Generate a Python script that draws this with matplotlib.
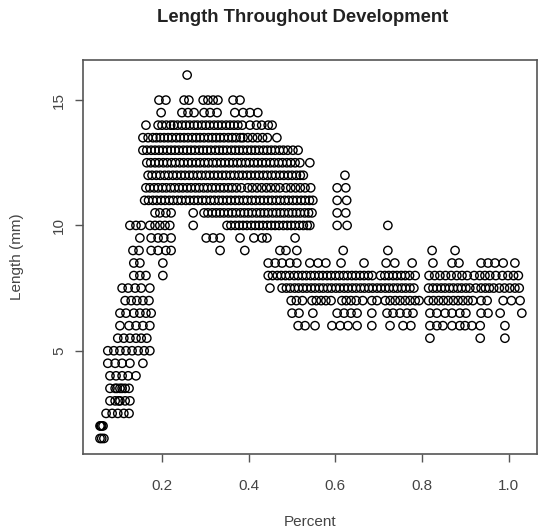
import numpy as np
import matplotlib
matplotlib.use("Agg")
import matplotlib.pyplot as plt

plt.rcParams['font.family'] = ['Liberation Sans', 'DejaVu Sans']

# Percent (x100) of points (mm)
pct_16_0 = [25.8]
pct_15_0 = [19.3, 20.9, 25.1, 26.2, 29.5, 30.6, 31.8, 32.9, 36.4, 38.0]
pct_14_5 = [19.8, 24.6, 26.0, 27.4, 29.7, 31.1, 32.7, 36.8, 38.7, 40.3, 42.1]
pct_14_0 = [16.3, 19.1, 20.0, 21.0, 22.0, 22.7, 23.6, 24.6, 25.5, 26.4, 27.4, 28.2,
            29.2, 30.1, 31.0, 32.0, 32.9, 33.8, 34.8, 35.7, 36.6, 37.5, 38.5, 40.3,
            41.8, 43.0, 44.5, 45.4]
pct_13_5 = [15.6, 16.8, 17.9, 18.7, 19.6, 20.5, 21.4, 22.3, 23.3, 24.2, 25.1, 26.0,
            27.0, 27.9, 28.8, 29.7, 30.7, 31.6, 32.5, 33.4, 34.3, 35.3, 36.2, 37.1,
            38.1, 38.7, 39.8, 40.9, 42.0, 43.2, 44.3, 46.5]
pct_13_0 = [15.6, 16.5, 17.5, 18.4, 19.3, 20.2, 21.2, 22.1, 23.0, 23.9, 24.9, 25.8,
            26.7, 27.6, 28.6, 29.5, 30.4, 31.3, 32.3, 33.2, 34.1, 35.0, 36.0, 36.9,
            37.8, 38.7, 39.7, 40.6, 41.5, 42.4, 43.4, 44.3, 45.2, 46.1, 47.1, 48.0,
            49.0, 50.2, 51.4]
pct_12_5 = [16.5, 17.4, 18.4, 19.3, 20.3, 21.2, 22.2, 23.1, 24.1, 25.0, 26.0, 26.9,
            27.9, 28.8, 29.8, 30.7, 31.7, 32.6, 33.6, 34.5, 35.5, 36.4, 37.4, 38.3,
            39.3, 40.2, 41.2, 42.1, 43.1, 44.0, 45.0, 45.9, 46.9, 47.8, 48.8, 49.7,
            50.7, 51.8, 54.1]
pct_12_0 = [16.8, 17.7, 18.7, 19.6, 20.6, 21.5, 22.5, 23.4, 24.4, 25.3, 26.3, 27.2,
            28.2, 29.1, 30.1, 31.0, 32.0, 32.9, 33.9, 34.8, 35.8, 36.7, 37.7, 38.6,
            39.6, 40.5, 41.5, 42.4, 43.4, 44.3, 45.3, 46.2, 47.2, 48.1, 49.1, 50.0,
            51.0, 51.9, 52.6, 62.2]
pct_11_5 = [16.3, 17.2, 18.2, 19.1, 20.1, 21.0, 22.0, 22.9, 23.9, 24.8, 25.8, 26.7,
            27.7, 28.6, 29.6, 30.5, 31.5, 32.4, 33.4, 34.3, 35.3, 36.2, 37.2, 38.3,
            39.8, 40.8, 41.9, 43.0, 44.1, 45.1, 46.2, 47.2, 48.6, 49.7, 50.8, 51.9,
            53.0, 54.3, 60.4, 62.4]
pct_11_0 = [16.0, 16.9, 17.9, 18.8, 19.8, 20.7, 21.7, 22.6, 23.6, 24.5, 25.5, 26.4,
            27.4, 28.3, 29.3, 30.2, 31.2, 32.1, 33.1, 34.0, 35.0, 35.9, 36.9, 37.8,
            38.8, 39.7, 40.7, 41.6, 42.6, 43.5, 44.5, 45.4, 46.4, 47.3, 48.3, 49.2,
            50.2, 51.1, 52.1, 53.0, 54.0, 54.8, 60.4, 62.6]
pct_10_5 = [18.4, 19.5, 20.9, 22.1, 27.2, 29.7, 30.6, 31.6, 32.5, 33.4, 34.3, 35.3,
            36.2, 37.1, 38.1, 39.0, 39.9, 40.8, 41.8, 42.7, 43.6, 44.5, 45.5, 46.4,
            47.3, 48.2, 49.2, 50.1, 51.0, 51.9, 52.9, 53.8, 54.6, 60.4, 62.4]
pct_10_0 = [12.6, 14.0, 15.2, 17.2, 18.4, 19.5, 20.7, 21.8, 27.2, 35.0, 35.9, 36.9,
            37.8, 38.7, 39.6, 40.6, 41.5, 42.4, 43.3, 44.3, 45.2, 46.1, 47.0, 48.0,
            48.9, 49.8, 50.7, 51.7, 52.6, 53.5, 54.1, 60.4, 62.7, 72.1]
pct_9_5 = [14.9, 17.5, 19.1, 20.4, 22.1, 30.2, 31.8, 33.4, 38.0, 41.2, 43.1, 44.2, 50.7]
pct_9_0 = [13.3, 14.7, 17.5, 19.1, 20.9, 22.1, 33.4, 39.1, 47.2, 48.6, 51.1, 61.8,
           72.1, 82.3, 87.6]
pct_8_5 = [13.5, 14.9, 20.2, 44.5, 46.1, 47.7, 49.5, 51.1, 54.1, 56.0, 57.8, 61.3,
           66.6, 71.7, 73.7, 77.7, 82.5, 86.9, 88.5, 93.6, 95.2, 96.8, 98.7, 101.4]
pct_8_0 = [13.5, 14.9, 16.3, 20.2, 44.5, 45.5, 46.6, 47.5, 48.5, 49.4, 50.5, 51.4,
           52.4, 53.3, 54.3, 55.2, 56.2, 57.1, 58.1, 59.0, 60.0, 60.9, 61.9, 62.8,
           63.8, 64.7, 65.7, 66.6, 67.6, 68.5, 70.4, 71.4, 72.3, 73.3, 74.2, 75.2,
           76.1, 77.1, 78.4, 81.6, 82.9, 84.1, 85.4, 86.7, 88.0, 89.2, 90.4, 92.0,
           93.3, 94.5, 95.6, 97.0, 98.5, 99.8, 101.1, 102.2]
pct_7_5 = [10.8, 12.2, 13.8, 15.2, 17.2, 44.9, 47.7, 48.7, 49.6, 50.6, 51.5, 52.5,
           53.4, 54.4, 55.3, 56.3, 57.2, 58.2, 59.1, 60.1, 61.0, 62.0, 62.9, 63.9,
           64.8, 65.8, 66.7, 67.7, 68.6, 69.6, 70.5, 71.5, 72.4, 73.4, 74.3, 75.3,
           76.2, 77.2, 78.1, 81.5, 82.5, 83.4, 84.4, 85.3, 86.3, 87.2, 88.2, 89.1,
           90.1, 91.0, 92.4, 93.6, 94.6, 95.5, 96.5, 97.8, 99.0, 100.2, 101.4, 102.4]
pct_7_0 = [11.5, 12.9, 14.2, 15.6, 17.0, 49.8, 51.0, 52.4, 54.6, 55.6, 56.7, 57.8,
           59.0, 61.5, 62.5, 63.6, 64.8, 66.3, 68.4, 69.6, 71.5, 72.6, 73.8, 74.9,
           76.1, 77.2, 78.4, 79.3, 81.5, 82.6, 83.8, 84.9, 86.0, 87.2, 88.3, 89.4,
           90.6, 91.7, 93.6, 95.0, 98.7, 100.6, 102.6]
pct_6_5 = [10.3, 11.7, 13.5, 14.9, 16.3, 17.5, 50.0, 51.6, 54.8, 60.4, 62.0, 63.6,
           65.0, 68.4, 71.9, 73.3, 74.9, 76.5, 77.9, 81.8, 83.4, 85.3, 86.9, 88.7,
           90.1, 93.6, 95.2, 98.0, 103.0]
pct_6_0 = [10.3, 12.4, 14.0, 15.6, 17.2, 51.4, 53.0, 55.3, 59.2, 61.1, 62.9, 65.0,
           68.4, 72.6, 75.6, 77.4, 81.8, 83.4, 84.8, 86.9, 88.7, 89.9, 91.5, 93.4, 99.1]
pct_5_5 = [9.8, 11.2, 12.6, 14.0, 15.2, 16.5, 81.8, 93.4, 99.1]
pct_5_0 = [7.5, 8.9, 10.3, 11.7, 13.1, 14.5, 15.9, 17.2]
pct_4_5 = [7.5, 9.2, 10.8, 12.6, 15.6]
pct_4_0 = [8.0, 9.4, 10.8, 12.2, 14.0]
pct_3_5 = [8.0, 9.2, 9.6, 10.3, 10.8, 11.5, 12.4]
pct_3_0 = [8.0, 9.2, 10.0, 10.3, 11.5, 12.6]
pct_2_5 = [7.1, 8.5, 9.8, 11.2, 12.4]
pct_2_0 = [5.7, 5.9, 6.1, 6.4]
pct_1_5 = [5.7, 6.1, 6.6]

rows = [(16.0, pct_16_0), (15.0, pct_15_0), (14.5, pct_14_5), (14.0, pct_14_0),
        (13.5, pct_13_5), (13.0, pct_13_0), (12.5, pct_12_5), (12.0, pct_12_0),
        (11.5, pct_11_5), (11.0, pct_11_0), (10.5, pct_10_5), (10.0, pct_10_0),
        (9.5, pct_9_5), (9.0, pct_9_0), (8.5, pct_8_5), (8.0, pct_8_0),
        (7.5, pct_7_5), (7.0, pct_7_0), (6.5, pct_6_5), (6.0, pct_6_0),
        (5.5, pct_5_5), (5.0, pct_5_0), (4.5, pct_4_5), (4.0, pct_4_0),
        (3.5, pct_3_5), (3.0, pct_3_0), (2.5, pct_2_5), (2.0, pct_2_0), (1.5, pct_1_5)]

x = np.concatenate([np.array(p) / 100.0 for _, p in rows])
y = np.concatenate([np.full(len(p), L) for L, p in rows])

W, H = 539, 531
fig = plt.figure(figsize=(W / 100, H / 100), dpi=100)
ax = fig.add_axes([83 / W, 1 - 454 / H, (537 - 83) / W, (454 - 60) / H])

ax.scatter(x, y, s=36, facecolors='none', edgecolors='black', linewidths=1.0)

ax.set_xlim(0.0178, 1.065)
ax.set_ylim(0.88, 16.6)
ax.set_xticks([0.2, 0.4, 0.6, 0.8, 1.0])
ax.set_xticklabels(['0.2', '0.4', '0.6', '0.8', '1.0'])
ax.set_yticks([5, 10, 15])
ax.set_yticklabels(['5', '10', '15'])

for s in ax.spines.values():
    s.set_color('#555555')
    s.set_linewidth(1.2)

ax.tick_params(axis='both', length=6, width=1.0, color='#555555',
               labelcolor='#444444', labelsize=11)
ax.tick_params(axis='x', pad=12)
ax.tick_params(axis='y', pad=6)
plt.setp(ax.get_yticklabels(), rotation=90, va='center', ha='right')

fig.text(303 / W, 1 - 18 / H, 'Length Throughout Development', ha='center', va='center',
         fontsize=13.3, fontweight='bold', color='#222222')
fig.text(310 / W, 1 - 522 / H, 'Percent', ha='center', va='center',
         fontsize=11, color='#444444')
fig.text(17 / W, 1 - 257 / H, 'Length (mm)', ha='center', va='center',
         rotation=90, fontsize=11, color='#444444')

fig.savefig('out.png', dpi=100)
